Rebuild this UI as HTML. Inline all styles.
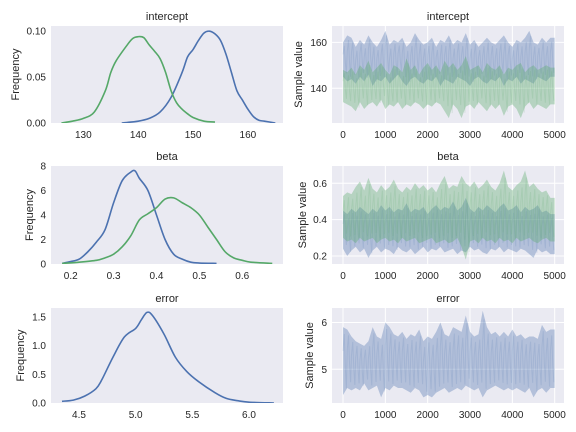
<!DOCTYPE html>
<html><head><meta charset="utf-8"><style>
body{margin:0;background:#fff}
svg{display:block;font-family:"Liberation Sans",sans-serif}
</style></head><body>
<svg id="fig" width="576" height="432"></svg>
<script>
// ---- KDE data ----
const icptGreenX=[126,128,130,132,134,135,136,138,139,140,141,142,143,144,145,146,147,148,149,150,152,154];
const icptGreenY=[0,0.002,0.005,0.012,0.035,0.055,0.068,0.085,0.092,0.094,0.093,0.085,0.078,0.07,0.055,0.035,0.022,0.015,0.010,0.006,0.002,0.001];
const icptBlueX=[137,140,142,144,146,148,149,150,151,152,153,154,155,156,157,158,159,160,161,162,163,165];
const icptBlueY=[0,0.002,0.005,0.012,0.028,0.055,0.072,0.08,0.09,0.098,0.1,0.097,0.09,0.075,0.055,0.035,0.025,0.015,0.007,0.003,0.002,0];
const betaBlueX=[0.18,0.20,0.22,0.24,0.26,0.28,0.30,0.32,0.34,0.35,0.36,0.38,0.40,0.42,0.44,0.46,0.48,0.50,0.54];
const betaBlueY=[0.05,0.2,0.4,1.0,1.8,2.8,5.0,6.8,7.5,7.6,7.0,6.0,4.0,2.0,0.8,0.4,0.15,0.08,0.05];
const betaGreenX=[0.18,0.22,0.26,0.28,0.30,0.32,0.34,0.36,0.38,0.40,0.42,0.44,0.46,0.48,0.50,0.52,0.54,0.56,0.58,0.60,0.62,0.67];
const betaGreenY=[0.05,0.15,0.3,0.5,0.8,1.4,2.3,3.6,4.1,4.6,5.3,5.4,5.0,4.6,4.0,3.0,2.0,1.0,0.5,0.3,0.15,0.05];
const errX=[4.35,4.45,4.55,4.65,4.7,4.8,4.9,5.0,5.05,5.1,5.15,5.25,5.35,5.45,5.55,5.7,5.8,5.9,6.0,6.22];
const errY=[0.03,0.05,0.12,0.25,0.4,0.8,1.15,1.3,1.45,1.58,1.52,1.2,0.8,0.55,0.38,0.18,0.08,0.04,0.015,0.0];
// ---- trace envelopes (50 bins over 5000 iterations) ----
const icptBlueHi=[160,163,162,158,161,159,163,160,158,161,165,159,161,160,162,158,160,164,161,159,160,162,158,161,160,163,159,161,160,164,159,161,158,160,162,160,159,161,163,160,158,161,160,162,165,160,159,162,160,162];
const icptBlueLo=[145,143,144,142,145,143,146,141,144,143,145,142,144,146,143,141,144,145,143,142,144,143,145,141,144,143,142,145,144,143,141,144,145,143,142,144,143,145,141,144,143,145,142,144,143,142,145,144,143,145];
const icptGreenHi=[148,147,149,146,150,148,152,147,149,151,148,146,150,149,147,153,148,150,146,149,151,148,150,147,152,149,151,148,150,154,148,149,150,147,151,149,148,150,146,149,148,150,151,147,149,150,148,149,150,149];
const icptGreenLo=[134,133,132,130,134,131,133,134,132,135,131,133,132,134,131,133,132,134,133,131,133,132,134,133,130,127,133,131,127,132,133,131,134,132,130,133,131,133,128,132,133,131,127,132,134,131,133,132,131,133];
const betaBlueHi=[0.45,0.43,0.46,0.44,0.47,0.45,0.43,0.46,0.44,0.48,0.45,0.47,0.44,0.46,0.45,0.49,0.44,0.46,0.45,0.47,0.43,0.46,0.48,0.45,0.47,0.46,0.50,0.45,0.47,0.52,0.46,0.44,0.47,0.45,0.48,0.46,0.44,0.47,0.49,0.45,0.46,0.48,0.44,0.47,0.45,0.46,0.48,0.44,0.45,0.43];
const betaBlueLo=[0.24,0.20,0.23,0.25,0.22,0.24,0.19,0.23,0.25,0.22,0.24,0.23,0.21,0.25,0.23,0.22,0.24,0.21,0.23,0.25,0.22,0.24,0.23,0.25,0.22,0.23,0.24,0.21,0.23,0.22,0.25,0.23,0.24,0.22,0.21,0.24,0.23,0.25,0.22,0.24,0.23,0.22,0.24,0.23,0.21,0.19,0.24,0.22,0.23,0.21];
const betaGreenHi=[0.53,0.55,0.54,0.58,0.61,0.56,0.63,0.57,0.55,0.59,0.56,0.58,0.62,0.57,0.55,0.58,0.56,0.60,0.57,0.59,0.56,0.58,0.55,0.60,0.64,0.57,0.59,0.58,0.64,0.60,0.58,0.61,0.57,0.59,0.62,0.58,0.56,0.60,0.67,0.58,0.56,0.59,0.61,0.67,0.58,0.60,0.57,0.55,0.56,0.52];
const betaGreenLo=[0.30,0.28,0.29,0.27,0.30,0.28,0.29,0.30,0.27,0.29,0.30,0.28,0.29,0.27,0.30,0.28,0.29,0.30,0.27,0.28,0.29,0.30,0.27,0.28,0.29,0.27,0.28,0.30,0.25,0.18,0.28,0.29,0.27,0.30,0.28,0.29,0.27,0.30,0.28,0.29,0.27,0.30,0.28,0.29,0.30,0.28,0.27,0.29,0.30,0.28];
const errHi=[5.9,5.85,5.7,5.6,5.55,5.5,5.6,5.9,5.7,5.65,6.0,5.9,5.75,5.7,5.8,5.65,5.75,5.7,5.85,5.6,5.7,5.65,5.8,6.0,5.75,5.7,5.9,5.85,5.8,6.15,5.8,5.7,5.75,6.25,5.9,5.75,5.8,5.7,5.8,5.7,5.85,5.7,5.75,5.65,5.7,5.7,5.65,5.95,5.8,5.85];
const errLo=[4.45,4.6,4.55,4.6,4.55,4.7,4.55,4.6,4.65,4.4,4.6,4.55,4.65,4.6,4.6,4.55,4.5,4.6,4.55,4.4,4.45,4.4,4.5,4.55,4.6,4.5,4.55,4.6,4.55,4.65,4.6,4.55,4.6,4.4,4.55,4.6,4.65,4.6,4.55,4.6,4.55,4.6,4.55,4.5,4.6,4.4,4.55,4.6,4.5,4.6];

const NS='http://www.w3.org/2000/svg';
const svg=document.getElementById('fig');
const BLUE='#4C72B0',GREEN='#55A868';
function mk(tag,attrs,parent){const e=document.createElementNS(NS,tag);for(const k in attrs)e.setAttribute(k,attrs[k]);(parent||svg).appendChild(e);return e;}
function txt(s,x,y,attrs){const e=mk('text',Object.assign({x:x,y:y,fill:'#262626','font-size':10},attrs));e.textContent=s;return e;}

function panel(o){
  const g=mk('g',{});
  
  
  const sx=v=>o.x0+(v-o.xlim[0])/(o.xlim[1]-o.xlim[0])*(o.x1-o.x0);
  const sy=v=>o.y1-(v-o.ylim[0])/(o.ylim[1]-o.ylim[0])*(o.y1-o.y0);
  const bg=mk('rect',{x:o.x0,y:o.y0,width:o.x1-o.x0,height:o.y1-o.y0,fill:'#EAEAF2'},g);
  
  
  if(o.grid){
    o.xt.forEach(v=>mk('line',{x1:sx(v),x2:sx(v),y1:o.y0,y2:o.y1,stroke:'#fff','stroke-width':1},g));
    o.yt.forEach(v=>mk('line',{x1:o.x0,x2:o.x1,y1:sy(v),y2:sy(v),stroke:'#fff','stroke-width':1},g));
  }
  o.xt.forEach((v,i)=>{const t=txt(o.xl[i],sx(v),o.y1+15,{'text-anchor':'middle'});});
  o.yt.forEach((v,i)=>{const t=txt(o.yl[i],o.x0-5,sy(v)+3.5,{'text-anchor':'end'});});
  const ti=txt(o.title,(o.x0+o.x1)/2,o.y0-6,{'text-anchor':'middle','font-size':11});
  
  
  const yl=txt(o.ylabel,0,0,{'text-anchor':'middle','font-size':11,transform:`translate(${o.ylx},${(o.y0+o.y1)/2}) rotate(-90)`});
  
  
  const cg=mk('g',{},g);
  const cp='clip'+o.name;
  const cd=mk('clipPath',{id:cp},g);mk('rect',{x:o.x0,y:o.y0,width:o.x1-o.x0,height:o.y1-o.y0},cd);
  cg.setAttribute('clip-path',`url(#${cp})`);
  return {sx,sy,g:cg};
}
function kde(p,xs,ys,color,name){
  const pts=xs.map((v,i)=>[p.sx(v),p.sy(ys[i])]);
  let d='M'+pts[0][0]+','+pts[0][1];
  for(let i=0;i<pts.length-1;i++){
    const p0=pts[Math.max(0,i-1)],p1=pts[i],p2=pts[i+1],p3=pts[Math.min(pts.length-1,i+2)];
    const c1=[p1[0]+(p2[0]-p0[0])/6,p1[1]+(p2[1]-p0[1])/6],c2=[p2[0]-(p3[0]-p1[0])/6,p2[1]-(p3[1]-p1[1])/6];
    d+=`C${c1[0]},${c1[1]} ${c2[0]},${c2[1]} ${p2[0]},${p2[1]}`;
  }
  const e=mk('path',{d:d,fill:'none',stroke:color,'stroke-width':1.6},p.g);
  
  
}
function trace(p,hi,lo,color,name){
  const n=hi.length,step=5000/n;
  let d='M'+hi.map((v,i)=>p.sx(i*step)+','+p.sy(v)).join('L')+'L'+p.sx(5000)+','+p.sy(hi[n-1]);
  d+='L'+p.sx(5000)+','+p.sy(lo[n-1])+'L'+lo.map((v,i)=>p.sx(i*step)+','+p.sy(v)).reverse().join('L')+'Z';
  const band=mk('path',{d:d,fill:color,'fill-opacity':0.35,stroke:'none'},p.g);
  
  
  const pts=[];
  for(let i=0;i<n;i++){
    const m=(hi[i]+lo[i])/2,r=(hi[i]-lo[i]);
    pts.push([p.sx(i*step),p.sy(m+r*0.15)]);
    pts.push([p.sx(i*step+step*0.3),p.sy(hi[i]-r*0.1)]);
    pts.push([p.sx(i*step+step*0.55),p.sy(m-r*0.1)]);
    pts.push([p.sx(i*step+step*0.8),p.sy(lo[i]+r*0.1)]);
  }
  const e=mk('polyline',{points:pts.map(q=>q.join(',')).join(' '),fill:'none',stroke:color,'stroke-opacity':0.15,'stroke-width':1},p.g);
  
  
}
const L={x0:51,x1:283},R={x0:332,x1:564};
const rows=[[26,123],[166,264],[308,403]];
const trX=[0,1000,2000,3000,4000,5000],trXL=['0','1000','2000','3000','4000','5000'];
const TXL=[-260,5220];

let p=panel({name:'intercept-kde',...L,y0:rows[0][0],y1:rows[0][1],xlim:[124.1,166.4],ylim:[0,0.1056],xt:[130,140,150,160],xl:['130','140','150','160'],yt:[0,0.05,0.1],yl:['0.00','0.05','0.10'],title:'intercept',ylabel:'Frequency',ylx:19,grid:false});
kde(p,icptBlueX,icptBlueY,BLUE,'intercept-kde-chain1');kde(p,icptGreenX,icptGreenY,GREEN,'intercept-kde-chain2');
p=panel({name:'intercept-trace',...R,y0:rows[0][0],y1:rows[0][1],xlim:TXL,ylim:[124.9,167.1],xt:trX,xl:trXL,yt:[140,160],yl:['140','160'],title:'intercept',ylabel:'Sample value',ylx:302,grid:true});
trace(p,icptBlueHi,icptBlueLo,BLUE,'intercept-trace-chain1');trace(p,icptGreenHi,icptGreenLo,GREEN,'intercept-trace-chain2');

p=panel({name:'beta-kde',...L,y0:rows[1][0],y1:rows[1][1],xlim:[0.154,0.695],ylim:[0,8],xt:[0.2,0.3,0.4,0.5,0.6],xl:['0.2','0.3','0.4','0.5','0.6'],yt:[0,2,4,6,8],yl:['0','2','4','6','8'],title:'beta',ylabel:'Frequency',ylx:33,grid:false});
kde(p,betaBlueX,betaBlueY,BLUE,'beta-kde-chain1');kde(p,betaGreenX,betaGreenY,GREEN,'beta-kde-chain2');
p=panel({name:'beta-trace',...R,y0:rows[1][0],y1:rows[1][1],xlim:TXL,ylim:[0.156,0.695],xt:trX,xl:trXL,yt:[0.2,0.4,0.6],yl:['0.2','0.4','0.6'],title:'beta',ylabel:'Sample value',ylx:306,grid:true});
trace(p,betaBlueHi,betaBlueLo,BLUE,'beta-trace-chain1');trace(p,betaGreenHi,betaGreenLo,GREEN,'beta-trace-chain2');

p=panel({name:'error-kde',...L,y0:rows[2][0],y1:rows[2][1],xlim:[4.253,6.30],ylim:[0,1.656],xt:[4.5,5.0,5.5,6.0],xl:['4.5','5.0','5.5','6.0'],yt:[0,0.5,1,1.5],yl:['0.0','0.5','1.0','1.5'],title:'error',ylabel:'Frequency',ylx:24,grid:false});
kde(p,errX,errY,BLUE,'error-kde-chain1');
p=panel({name:'error-trace',...R,y0:rows[2][0],y1:rows[2][1],xlim:TXL,ylim:[4.28,6.31],xt:trX,xl:trXL,yt:[5,6],yl:['5','6'],title:'error',ylabel:'Sample value',ylx:313,grid:true});
trace(p,errHi,errLo,BLUE,'error-trace-chain1');
</script>
</body></html>
